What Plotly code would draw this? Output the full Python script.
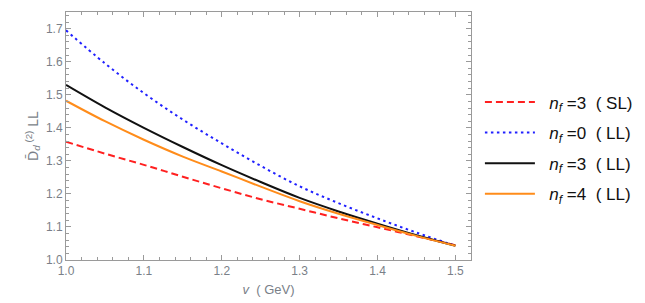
import plotly.graph_objects as go

x_vals = [1.0, 1.05, 1.1, 1.15, 1.2, 1.25, 1.3, 1.35, 1.4, 1.45, 1.5]
nf3_sl = [1.358, 1.322, 1.288, 1.252, 1.217, 1.184, 1.155, 1.126, 1.099, 1.072, 1.045]
nf0_ll = [1.695, 1.595, 1.505, 1.425, 1.353, 1.285, 1.223, 1.172, 1.126, 1.083, 1.043]
nf3_ll = [1.530, 1.462, 1.400, 1.342, 1.287, 1.236, 1.188, 1.147, 1.110, 1.075, 1.043]
nf4_ll = [1.482, 1.420, 1.364, 1.313, 1.268, 1.222, 1.178, 1.140, 1.106, 1.073, 1.043]

x_ticks = [1.0, 1.1, 1.2, 1.3, 1.4, 1.5]
y_ticks = [1.0, 1.1, 1.2, 1.3, 1.4, 1.5, 1.6, 1.7]

NB = "\u00a0"
series = [
    (NB * 2 + "<i>n</i><sub><i>f</i></sub> =3  ( SL)", nf3_sl, "#ff2020", "7px,4px"),
    (NB * 2 + "<i>n</i><sub><i>f</i></sub> =0  ( LL)", nf0_ll, "#2020ff", "2.5px,3.5px"),
    (NB * 2 + "<i>n</i><sub><i>f</i></sub> =3  ( LL)", nf3_ll, "#111111", "solid"),
    (NB * 2 + "<i>n</i><sub><i>f</i></sub> =4  ( LL)", nf4_ll, "#ff8c1a", "solid"),
]

fig = go.Figure()
for i, (name, ys, color, dash) in enumerate(series):
    fig.add_trace(go.Scatter(
        x=x_vals, y=ys, mode="lines", name=name,
        line=dict(color=color, width=2, dash=dash, shape="spline", smoothing=1.0),
        legendgroup=f"g{i}",
    ))

FONT = "Liberation Sans, Arial, sans-serif"
GRAY = "#7a7f88"
tick_font = dict(family=FONT, size=12, color=GRAY)
axis_common = dict(
    showgrid=False, zeroline=False, showline=True, linecolor="#9a9a9a", linewidth=1,
    mirror="ticks", ticks="inside", ticklen=5, tickcolor="#9a9a9a", tickwidth=1,
    tickfont=tick_font,
)

fig.update_xaxes(
    range=[1.0, 1.52], tickvals=x_ticks, ticktext=[f"{v:.1f}" for v in x_ticks],
    minor=dict(dtick=0.02, tick0=1.0, ticks="inside", ticklen=3, tickcolor="#9a9a9a", showgrid=False),
    title=dict(text="<i>v</i>  ( GeV)", font=dict(family=FONT, size=13, color=GRAY), standoff=7),
    **axis_common,
)
fig.update_yaxes(
    range=[1.0, 1.7506], tickvals=y_ticks, ticktext=[f"{v:.1f}" for v in y_ticks],
    minor=dict(dtick=0.02, tick0=1.0, ticks="inside", ticklen=3, tickcolor="#9a9a9a", showgrid=False),
    title=dict(text="D̄<sub><i>d</i></sub><sup> (2)</sup> LL", font=dict(family=FONT, size=14, color=GRAY), standoff=4),
    **axis_common,
)

fig.update_layout(
    width=645, height=303,
    margin=dict(l=58, r=182, t=4, b=51),
    plot_bgcolor="white", paper_bgcolor="white",
    legend=dict(
        x=1.022, y=0.708, xanchor="left", yanchor="top",
        font=dict(family=FONT, size=17, color="#111111"),
        tracegroupgap=5.5, itemwidth=50, bgcolor="rgba(0,0,0,0)",
    ),
    showlegend=True,
)

fig.write_html("out.html")
